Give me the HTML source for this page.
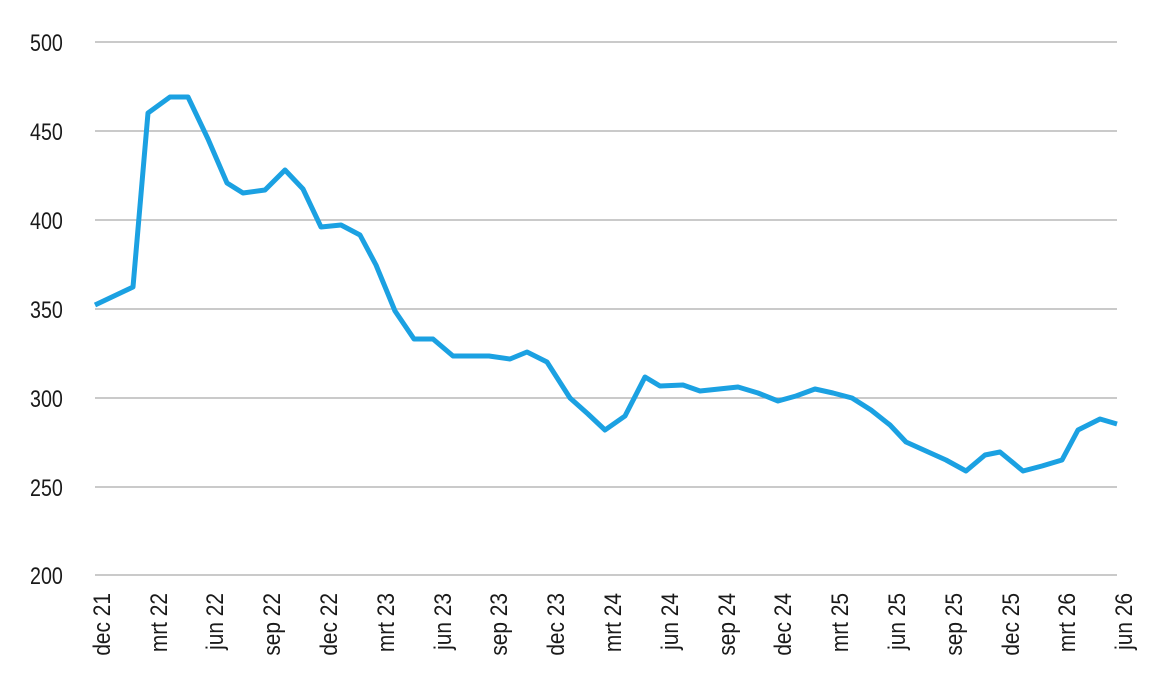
<!DOCTYPE html>
<html><head><meta charset="utf-8"><style>
body{margin:0;background:#fff;}
svg text{font-family:"Liberation Sans",sans-serif;font-size:24px;fill:#1a1a1a;}
</style></head><body>
<svg width="1169" height="669" viewBox="0 0 1169 669" xmlns="http://www.w3.org/2000/svg">
<g stroke="#aaa" stroke-width="1.2">
<line x1="95" y1="42" x2="1117" y2="42"/>
<line x1="95" y1="131" x2="1117" y2="131"/>
<line x1="95" y1="220" x2="1117" y2="220"/>
<line x1="95" y1="309" x2="1117" y2="309"/>
<line x1="95" y1="398" x2="1117" y2="398"/>
<line x1="95" y1="487" x2="1117" y2="487"/>
<line x1="95" y1="575" x2="1117" y2="575"/>
</g>
<g text-anchor="start">
<text transform="translate(30,51) scale(0.82,1)">500</text>
<text transform="translate(30,140) scale(0.82,1)">450</text>
<text transform="translate(30,229) scale(0.82,1)">400</text>
<text transform="translate(30,318) scale(0.82,1)">350</text>
<text transform="translate(30,407) scale(0.82,1)">300</text>
<text transform="translate(30,496) scale(0.82,1)">250</text>
<text transform="translate(30,584) scale(0.82,1)">200</text>
</g>
<g text-anchor="end">
<text transform="translate(110,593) rotate(-90) scale(0.87,1)">dec 21</text>
<text transform="translate(167,593) rotate(-90) scale(0.87,1)">mrt 22</text>
<text transform="translate(223,593) rotate(-90) scale(0.87,1)">jun 22</text>
<text transform="translate(280,593) rotate(-90) scale(0.87,1)">sep 22</text>
<text transform="translate(337,593) rotate(-90) scale(0.87,1)">dec 22</text>
<text transform="translate(394,593) rotate(-90) scale(0.87,1)">mrt 23</text>
<text transform="translate(451,593) rotate(-90) scale(0.87,1)">jun 23</text>
<text transform="translate(507,593) rotate(-90) scale(0.87,1)">sep 23</text>
<text transform="translate(564,593) rotate(-90) scale(0.87,1)">dec 23</text>
<text transform="translate(621,593) rotate(-90) scale(0.87,1)">mrt 24</text>
<text transform="translate(678,593) rotate(-90) scale(0.87,1)">jun 24</text>
<text transform="translate(735,593) rotate(-90) scale(0.87,1)">sep 24</text>
<text transform="translate(791,593) rotate(-90) scale(0.87,1)">dec 24</text>
<text transform="translate(848,593) rotate(-90) scale(0.87,1)">mrt 25</text>
<text transform="translate(905,593) rotate(-90) scale(0.87,1)">jun 25</text>
<text transform="translate(962,593) rotate(-90) scale(0.87,1)">sep 25</text>
<text transform="translate(1019,593) rotate(-90) scale(0.87,1)">dec 25</text>
<text transform="translate(1075,593) rotate(-90) scale(0.87,1)">mrt 26</text>
<text transform="translate(1132,593) rotate(-90) scale(0.87,1)">jun 26</text>
</g>
<polyline fill="none" stroke="#1ba1e2" stroke-width="5" stroke-linejoin="round" points="
95,305 114,296 133,287 148,113 170,97 188,97 208,139 227,183 243,193 265,190 285,170 303,189 321,227 341,225 360,235 376,265 395,311 414,339 433,339 453,356 472,356 489,356 510,359 527,352 547,362 570,398 588,414 605,430 625,416 645,377 660,386 683,385 700,391 719,389 738,387 758,393 778,401 796,396 815,389 833,393 852,398 871,410 890,425 906,442 926,451 946,460 966,471 985,455 1000,452 1023,471 1042,466 1062,460 1078,430 1100,419 1117,424"/>
</svg>
</body></html>
